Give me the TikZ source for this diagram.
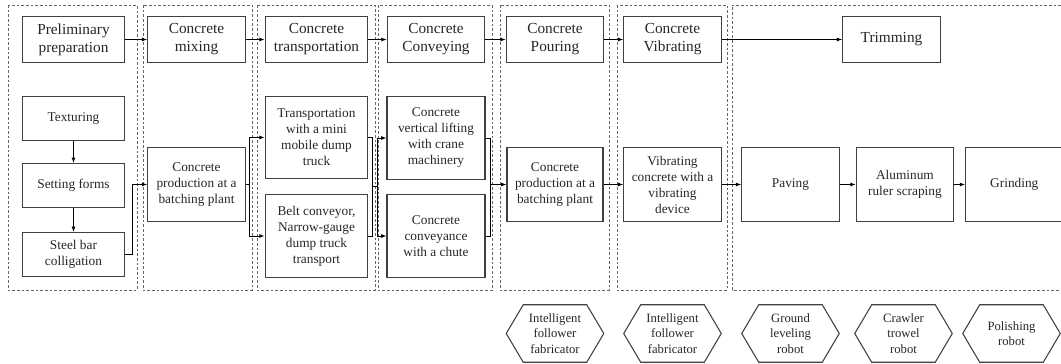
\documentclass[tikz,border=0pt]{standalone}
\usepackage{fontspec}
\setmainfont{Liberation Serif}
\usepackage{tikz}
\usetikzlibrary{arrows.meta, positioning, calc}
\tikzset{
  % Stage row styles
  stagebox/.style={rectangle, minimum width=#1, minimum height=35pt, text centered, align=center, draw=black!75, line width=0.8pt, inner sep=2pt, text=black!85, font=\fontsize{11.5}{13.5}\selectfont},
  stagebox/.default={73pt},
  % Work step styles
  taskbox/.style={rectangle, minimum width=77pt, minimum height=33pt, text centered, align=center, draw=black!75, line width=0.8pt, inner sep=2pt, text=black!85, font=\fontsize{10}{12}\selectfont},
  procbox/.style={taskbox, minimum width=#1, minimum height=56pt},
  procbox/.default={73pt},
  routebox/.style={taskbox, minimum width=#1, minimum height=62pt},
  routebox/.default={77pt},
  robot/.style={rectangle, minimum width=72.75pt, minimum height=42.75pt, text centered, align=center, inner sep=1pt, text=black!85, font=\fontsize{9.5}{11.5}\selectfont},
  robotline/.style={draw=black!75, line width=0.8pt},
  group/.style={draw=black!60, line width=0.6pt, dash pattern=on 2pt off 1.5pt},
  arrow/.style={-{Latex[length=4pt, width=3pt]}, line width=0.7pt},
  link/.style={line width=0.7pt},
}
\begin{document}
\begin{tikzpicture}[x=0.75pt, y=-0.75pt, node distance=12pt]
    \useasboundingbox (0,0) rectangle (1061,364);

    % Stage groups
    \draw[group] (8,5) rectangle (137,290);
    \draw[group] (143,5) rectangle (252,290);
    \draw[group] (257,5) rectangle (375,290);
    \draw[group] (378,5) rectangle (492,290);
    \draw[group] (500,5) rectangle (609,290);
    \draw[group] (617,5) rectangle (727,290);
    \draw[group] (1061,5) -| (732,290) -- (1061,290);

    % Stages
    \node[stagebox=77pt] (prep) at (73.5,39.5) {Preliminary\\preparation};
    \node[stagebox] (mixing) at (196.5,39.5) {Concrete\\mixing};
    \node[stagebox=77pt] (transport) at (316.5,39.5) {Concrete\\transportation};
    \node[stagebox] (conveying) at (436,39.5) {Concrete\\Conveying};
    \node[stagebox] (pouring) at (555,39.5) {Concrete\\Pouring};
    \node[stagebox] (vibrating) at (672.5,39.5) {Concrete\\Vibrating};
    \node[stagebox] (trimming) at (891.5,39.5) {Trimming};

    \draw[arrow] (prep) -- (mixing);
    \draw[arrow] (mixing) -- (transport);
    \draw[arrow] (transport) -- (conveying);
    \draw[arrow] (conveying) -- (pouring);
    \draw[arrow] (pouring) -- (vibrating);
    \draw[arrow] (vibrating) -- (trimming);

    % Preliminary preparation steps
    \node[taskbox] (texturing) at (73.5,118.5) {Texturing};
    \node[taskbox] (forms) at (73.5,185.5) {Setting forms};
    \node[taskbox] (steelbar) at (73.5,254.5) {Steel bar\\colligation};
    \draw[arrow] (texturing) -- (forms);
    \draw[arrow] (forms) -- (steelbar);

    % Mixing and transport
    \node[procbox] (batchA) at (196.5,184.5) {Concrete\\production at a\\batching plant};
    \node[routebox] (truck) at (316.5,137.5) {Transportation\\with a mini\\mobile dump\\truck};
    \node[routebox] (belt) at (316.5,236) {Belt conveyor,\\Narrow-gauge\\dump truck\\transport};
    \draw[arrow] (steelbar.east) -- ++(7,0) |- (batchA.west);
    \draw[arrow] (batchA.east) -- ++(3.5,0) |- (truck.west);
    \draw[arrow] (batchA.east) -- ++(3.5,0) |- (belt.west);

    % Conveying
    \node[routebox=73.5pt] (crane) at (436,138) {Concrete\\vertical lifting\\with crane\\machinery};
    \node[routebox=73.5pt] (chute) at (436,236) {Concrete\\conveyance\\with a chute};
    \draw[link] (truck.east) -- ++(4,0) coordinate (tmA) |- (belt.east);
    \coordinate (tm) at ($(tmA)!0.5!(tmA |- belt.east)$);
    \draw[arrow] (tm) -- ++(5,0) |- (crane.west);
    \draw[arrow] (tm) -- ++(5,0) |- (chute.west);

    % Pouring, vibrating, trimming
    \node[procbox=72pt] (batchB) at (555,184.5) {Concrete\\production at a\\batching plant};
    \node[procbox] (vibdev) at (672.5,184.5) {Vibrating\\concrete with a\\vibrating\\device};
    \node[procbox] (paving) at (790.5,184.5) {Paving};
    \node[procbox, right=12pt of paving] (scraping) {Aluminum\\ruler scraping};
    \node[procbox, right=8.25pt of scraping] (grinding) {Grinding};
    \draw[link] (crane.east) -- ++(5,0) coordinate (cm) |- (chute.east);
    \draw[arrow] (cm |- batchB.west) -- (batchB.west);
    \draw[arrow] (batchB) -- (vibdev);
    \draw[arrow] (vibdev) -- (paving);
    \draw[arrow] (paving) -- (scraping);
    \draw[arrow] (scraping) -- (grinding);

    % Robots
    \node[robot] (fabA) at (555,333.5) {Intelligent\\follower\\fabricator};
    \node[robot] (fabB) at (672.5,333.5) {Intelligent\\follower\\fabricator};
    \node[robot] (leveler) at (790.5,333.5) {Ground\\leveling\\robot};
    \node[robot] (trowel) at (903.5,333.5) {Crawler\\trowel\\robot};
    \node[robot] (polisher) at (1011.5,333.5) {Polishing\\robot};
    \foreach \r in {fabA, fabB, leveler, trowel, polisher}
      \draw[robotline] (\r.west) -- ($(\r.north west)+(17,0)$) -- ($(\r.north east)+(-17,0)$)
        -- (\r.east) -- ($(\r.south east)+(-17,0)$) -- ($(\r.south west)+(17,0)$) -- cycle;
\end{tikzpicture}
\end{document}
